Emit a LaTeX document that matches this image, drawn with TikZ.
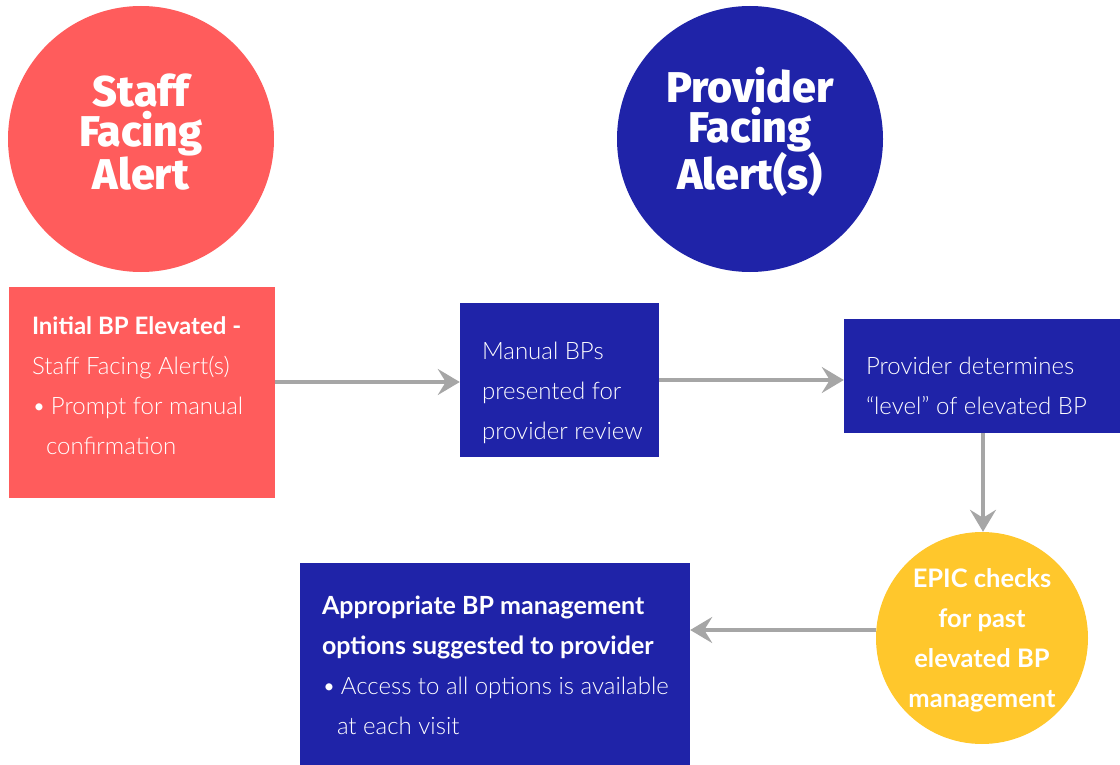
\documentclass[tikz,border=0pt]{standalone}
\usepackage{fontspec}
\setmainfont{Lato Light}[BoldFont=Lato Bold]
\newfontfamily\headfont{Fira Sans ExtraBold}
\usetikzlibrary{arrows.meta}
\definecolor{staffred}{HTML}{FF5C5C}
\definecolor{provblue}{HTML}{1F23A8}
\definecolor{epicgold}{HTML}{FFC72C}
\definecolor{flowgray}{HTML}{A6A6A6}
\tikzset{
  headcircle/.style={circle, minimum size=266pt, inner sep=0pt},
  headtext/.style={text=white, align=center, inner sep=0pt,
    font=\headfont\fontsize{43}{40}\selectfont},
  stepbox/.style={rectangle, inner sep=0pt},
  steptext/.style={anchor=west, text=white, align=left, inner sep=0pt,
    font=\fontsize{24}{40}\selectfont},
  flow/.style={draw=flowgray, line width=4pt,
    -{Stealth[length=22pt, width=26pt, inset=8pt]}},
}
\newcommand{\bulletitem}{\textbullet\hspace{5pt}}
\begin{document}
\begin{tikzpicture}[x=1pt, y=-1pt]
\useasboundingbox (0,0) rectangle (1120,765);

% section headings
\node[headcircle, fill=staffred] (staff) at (141,139) {};
\node[headtext, yshift=7pt] (staff-text) at (staff.center)
  {Staff\\Facing\\Alert};
\node[headcircle, fill=provblue] (prov) at (750,139) {};
\node[headtext, yshift=7pt] (prov-text) at (prov.center)
  {Provider\\Facing\\Alert(s)};

% process steps
\node[stepbox, fill=staffred, minimum width=266pt, minimum height=211pt]
  (initial) at (142,392.5) {};
\node[steptext, xshift=23pt, yshift=7pt] (initial-text) at (initial.west)
  {\textbf{Initial BP Elevated -}\\
   Staff Facing Alert(s)\\
   \bulletitem Prompt for manual\\
   \hspace*{14pt}confirmation};

\node[stepbox, fill=provblue, minimum width=199pt, minimum height=154pt]
  (manual) at (559.5,380) {};
\node[steptext, xshift=22pt, yshift=-13pt] (manual-text) at (manual.west)
  {Manual BPs\\presented for\\provider review};

\node[stepbox, fill=provblue, minimum width=276pt, minimum height=114pt]
  (level) at (982,376) {};
\node[steptext, xshift=22pt, yshift=-10pt] (level-text) at (level.west)
  {Provider determines\\``level'' of elevated BP};

\node[circle, fill=epicgold, minimum size=212pt, inner sep=0pt]
  (epic) at (982,638) {};
\node[text=white, align=center, inner sep=0pt, yshift=-2pt,
  font=\bfseries\fontsize{25.5}{40}\selectfont] (epic-text) at (epic.center)
  {EPIC checks\\for past\\elevated BP\\management};

\node[stepbox, fill=provblue, minimum width=390pt, minimum height=202pt]
  (options) at (495,664) {};
\node[steptext, xshift=22pt, yshift=-1pt] (options-text) at (options.west)
  {\textbf{\fontsize{25}{40}\selectfont Appropriate BP management}\\
   \textbf{\fontsize{25}{40}\selectfont options suggested to provider}\\
   \bulletitem Access to all options is available\\
   \hspace*{15pt}at each visit};

% connectors
\draw[flow] (initial.east |- 0,382) -- (manual.west |- 0,382);
\draw[flow] (manual.east |- 0,380) -- (level.west |- 0,380);
\draw[flow] (level.south -| 983,0) -- (epic.north -| 983,0);
\draw[flow] (epic.west |- 0,630) -- (options.east |- 0,630);
\end{tikzpicture}
\end{document}
